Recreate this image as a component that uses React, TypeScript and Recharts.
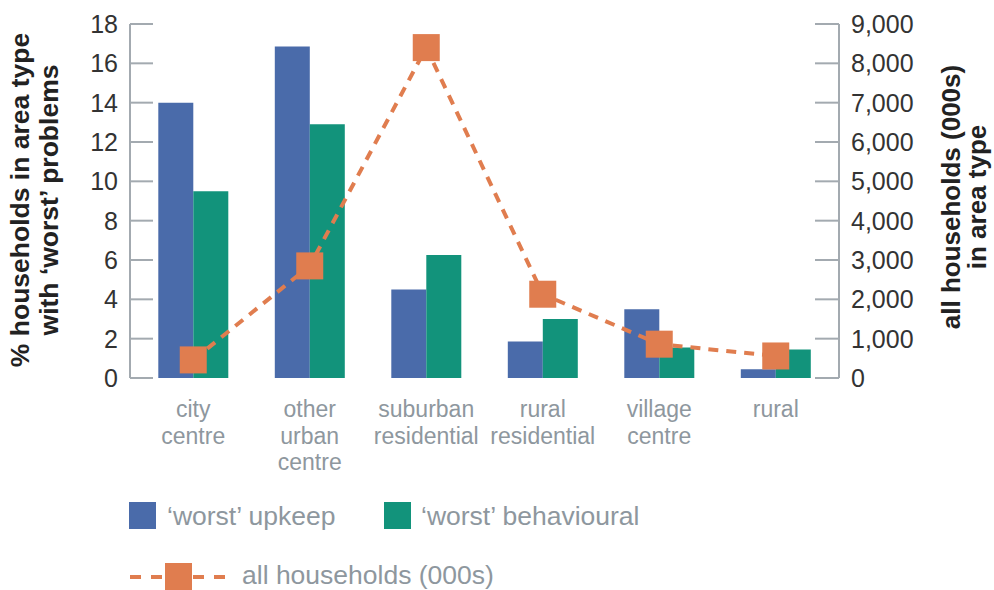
import React from "react";
import { Bar, ComposedChart, Line, XAxis, YAxis } from "recharts";

const categories = [
  "city centre",
  "other urban centre",
  "suburban residential",
  "rural residential",
  "village centre",
  "rural",
];
const categoryLines = [
  ["city", "centre"],
  ["other", "urban", "centre"],
  ["suburban", "residential"],
  ["rural", "residential"],
  ["village", "centre"],
  ["rural"],
];
const worstUpkeep = [14.0, 16.85, 4.5, 1.85, 3.5, 0.45];
const worstBehavioural = [9.5, 12.9, 6.25, 3.0, 1.55, 1.45];
const allHouseholds = [460, 2850, 8400, 2130, 860, 560];
const leftTicks = [0, 2, 4, 6, 8, 10, 12, 14, 16, 18];
const rightTicks = [0, 1000, 2000, 3000, 4000, 5000, 6000, 7000, 8000, 9000];

const BLUE = "#4A6BAA";
const GREEN = "#12937B";
const ORANGE = "#E07D4F";
const AXIS = "#A3AAB0";
const GREY_TEXT = "#8E979E";
const FONT = "'Liberation Sans', Arial, sans-serif";

const data = categories.map((name, i) => ({
  name,
  upkeep: worstUpkeep[i],
  behavioural: worstBehavioural[i],
  households: allHouseholds[i],
}));

const LeftTick = (props: any) => {
  const { x, y, payload } = props;
  return (
    <g>
      <line x1={x} x2={x + 23} y1={y} y2={y} stroke={AXIS} strokeWidth={2} />
      <text x={x - 12} y={y} dy="0.36em" textAnchor="end" fill="#333" fontSize={25} fontFamily={FONT}>
        {payload.value}
      </text>
    </g>
  );
};

const RightTick = (props: any) => {
  const { x, y, payload } = props;
  return (
    <g>
      <line x1={x - 24} x2={x} y1={y} y2={y} stroke={AXIS} strokeWidth={2} />
      <text x={x + 12} y={y} dy="0.36em" textAnchor="start" fill="#333" fontSize={25} fontFamily={FONT}>
        {Number(payload.value).toLocaleString("en-US")}
      </text>
    </g>
  );
};

const CategoryTick = (props: any) => {
  const { x, y, index } = props;
  const lines = categoryLines[index] || [];
  return (
    <text x={x} y={y} textAnchor="middle" fill={GREY_TEXT} fontSize={23} fontFamily={FONT}>
      {lines.map((l, i) => (
        <tspan key={i} x={x} y={y + 39 + i * 26.5}>
          {l}
        </tspan>
      ))}
    </text>
  );
};

const SquareDot = (props: any) => {
  const { cx, cy } = props;
  if (cx == null || cy == null) return null;
  return <rect x={cx - 13.5} y={cy - 13.5} width={27} height={27} fill={ORANGE} />;
};

// rotated title: cx/cy is the screen centre of the first line's baseline
const AxisTitle = ({
  lines,
  cx,
  cy,
  gap,
  size,
}: {
  lines: string[];
  cx: number;
  cy: number;
  gap: number;
  size: number;
}) => (
  <text transform="rotate(-90)" textAnchor="middle" fill="#222" fontSize={size} fontWeight="bold" fontFamily={FONT}>
    {lines.map((l, i) => (
      <tspan key={i} x={-cy} y={cx + i * gap}>
        {l}
      </tspan>
    ))}
  </text>
);

export default function App() {
  return (
    <div style={{ position: "relative", width: 994, height: 590, background: "#fff" }}>
      <style>{`body{margin:0}`}</style>
      <ComposedChart
        width={994}
        height={590}
        data={data}
        margin={{ top: 24, right: 0, bottom: 112, left: 0 }}
        barGap={0}
        barCategoryGap="20%"
      >
        <XAxis
          dataKey="name"
          axisLine={false}
          tickLine={false}
          tickSize={0}
          tickMargin={0}
          height={100}
          interval={0}
          padding={{ left: 5, right: 5 }}
          tick={<CategoryTick />}
        />
        <YAxis
          yAxisId="left"
          orientation="left"
          width={130}
          domain={[0, 18]}
          ticks={leftTicks}
          interval={0}
          tickSize={0}
          tickMargin={0}
          tickLine={false}
          axisLine={{ stroke: AXIS, strokeWidth: 2 }}
          tick={<LeftTick />}
          label={{
            content: () => (
              <AxisTitle
                lines={["% households in area type", "with \u2018worst\u2019 problems"]}
                cx={29}
                cy={200}
                gap={29}
                size={26.5}
              />
            ),
          }}
        />
        <YAxis
          yAxisId="right"
          orientation="right"
          width={155}
          domain={[0, 9000]}
          ticks={rightTicks}
          interval={0}
          tickSize={0}
          tickMargin={0}
          tickLine={false}
          axisLine={{ stroke: AXIS, strokeWidth: 2 }}
          tick={<RightTick />}
          label={{
            content: () => (
              <AxisTitle
                lines={["all households (000s)", "in area type"]}
                cx={960}
                cy={197}
                gap={26}
                size={26}
              />
            ),
          }}
        />
        <Bar yAxisId="left" dataKey="upkeep" fill={BLUE} isAnimationActive={false} />
        <Bar yAxisId="left" dataKey="behavioural" fill={GREEN} isAnimationActive={false} />
        <Line
          yAxisId="right"
          dataKey="households"
          type="linear"
          stroke={ORANGE}
          strokeWidth={4}
          strokeDasharray="10 8"
          dot={<SquareDot />}
          activeDot={false}
          isAnimationActive={false}
        />
      </ComposedChart>
      <svg
        width={994}
        height={100}
        style={{ position: "absolute", left: 0, top: 490 }}
        fontFamily={FONT}
      >
        <rect x={129} y={12} width={27} height={27} fill={BLUE} />
        <text x={167} y={35} fontSize={26.5} fill={GREY_TEXT}>
          {"\u2018worst\u2019 upkeep"}
        </text>
        <rect x={384} y={12} width={27} height={27} fill={GREEN} />
        <text x={421} y={35} fontSize={26.5} fill={GREY_TEXT}>
          {"\u2018worst\u2019 behavioural"}
        </text>
        <line x1={130} x2={230} y1={87} y2={87} stroke={ORANGE} strokeWidth={4} strokeDasharray="11 10" />
        <rect x={165} y={73} width={27} height={27} fill={ORANGE} />
        <text x={242} y={94} fontSize={26.5} fill={GREY_TEXT}>
          all households (000s)
        </text>
      </svg>
    </div>
  );
}
